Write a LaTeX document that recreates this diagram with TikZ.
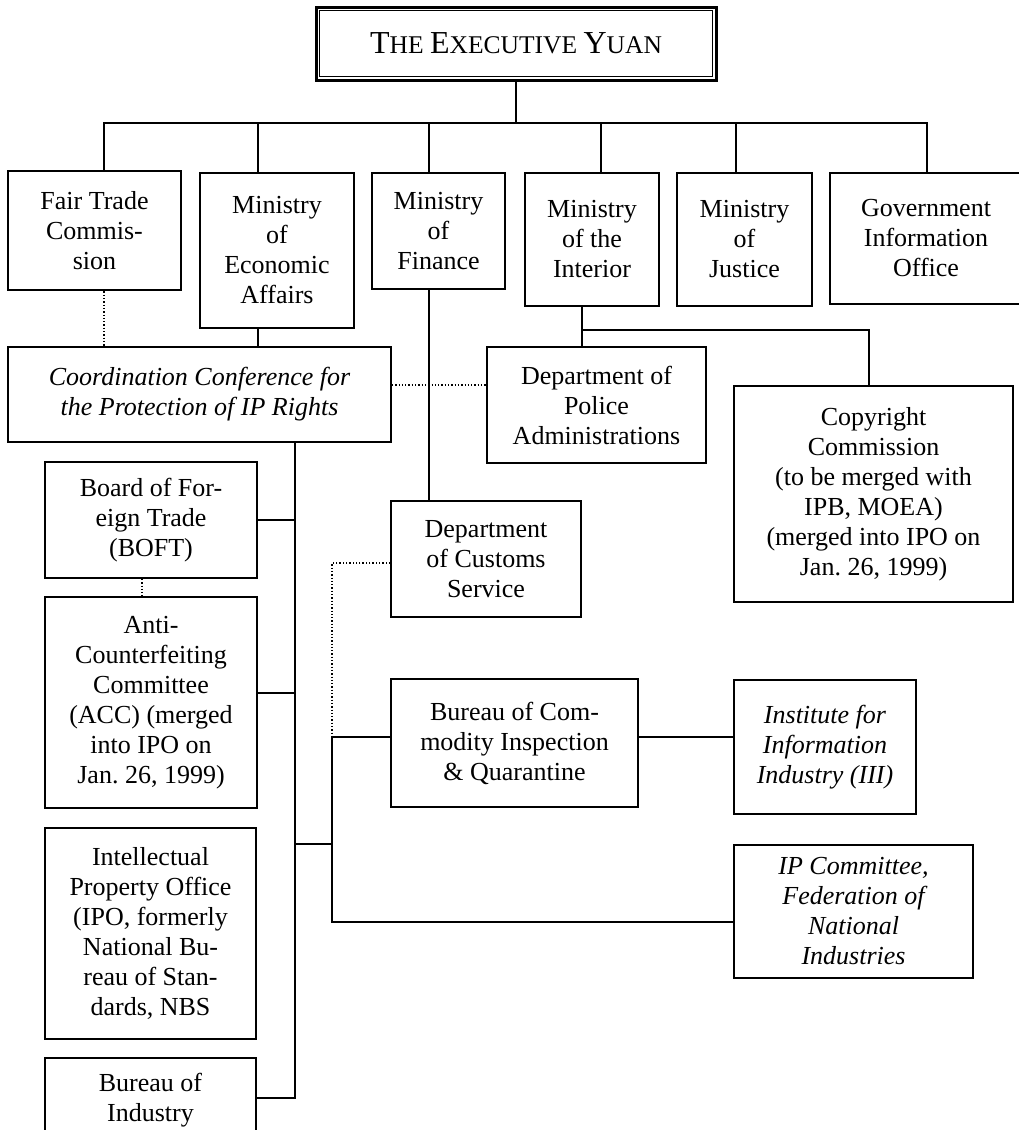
\documentclass[tikz,border=0pt]{standalone}
\usepackage{fontspec}
\setmainfont{Liberation Serif}
\usetikzlibrary{positioning,calc}
\newcommand{\orgfont}{\fontsize{26}{30}\selectfont}
\newcommand{\bigsc}[2]{{\fontsize{32}{36}\selectfont #1}{\fontsize{25.5}{36}\selectfont #2}}

\begin{document}
\begin{tikzpicture}[
    x=1pt, y=-1pt,
    box/.style={rectangle, draw, line width=1.8pt, align=center, font=\orgfont, inner sep=2pt},
    minbox/.style={box, line width=2.8pt},
    itbox/.style={box, font=\orgfont\itshape},
    headbox/.style={rectangle, draw, line width=3pt, align=center, font=\orgfont, minimum width=400pt, minimum height=73pt},
    link/.style={line width=1.8pt},
    dotlink/.style={line width=1.3pt, dotted},
]
    \useasboundingbox (0,0) rectangle (1018,1130);

    % Head
    \node[headbox] (yuan) at (516,43.5) {\bigsc{T}{HE} \bigsc{E}{XECUTIVE} \bigsc{Y}{UAN}};
    \draw[line width=1.2pt] ([shift={(5pt,-5pt)}]yuan.north west) rectangle ([shift={(-5pt,5pt)}]yuan.south east);

    % Ministries
    \node[minbox, minimum width=173pt, minimum height=119pt] (ftc) at (94.5,230.5) {Fair Trade\\Commis-\\sion};
    \node[minbox, minimum width=154pt, minimum height=155pt] (moea) at (277,250.5) {Ministry\\of\\Economic\\Affairs};
    \node[minbox, minimum width=133pt, minimum height=116pt] (mof) at (438.5,231) {Ministry\\of\\Finance};
    \node[minbox, minimum width=134pt, minimum height=133pt] (moi) at (592,239.5) {Ministry\\of the\\Interior};
    \node[minbox, minimum width=135pt, minimum height=133pt] (moj) at (744.5,239.5) {Ministry\\of\\Justice};
    \node[minbox, minimum width=192pt, minimum height=131pt] (gio) at (926,238.5) {Government\\Information\\Office};

    % Second level
    \node[itbox, minimum width=383pt, minimum height=95pt] (ccpr) at (199.5,394.5) {Coordination Conference for\\the Protection of IP Rights};
    \node[box, minimum width=219pt, minimum height=116pt] (police) at (596.5,405) {Department of\\Police\\Administrations};
    \node[box, minimum width=279pt, minimum height=216pt] (copyright) at (873.5,494) {Copyright\\Commission\\(to be merged with\\IPB, MOEA)\\(merged into IPO on\\Jan.\ 26, 1999)};
    \node[box, minimum width=190pt, minimum height=116pt] (customs) at (486,559) {Department\\of Customs\\Service};

    % Under the conference
    \node[box, minimum width=212pt, minimum height=116pt] (boft) at (151,520) {Board of For-\\eign Trade\\(BOFT)};
    \node[box, minimum width=212pt, minimum height=211pt] (acc) at (151,702.5) {Anti-\\Counterfeiting\\Committee\\(ACC) (merged\\into IPO on\\Jan.\ 26, 1999)};
    \node[box, minimum width=211pt, minimum height=211pt] (ipo) at (150.5,933.5) {Intellectual\\Property Office\\(IPO, formerly\\National Bu-\\reau of Stan-\\dards, NBS};
    \node[box, minimum width=211pt, minimum height=84pt] (boi) at (150.5,1100) {Bureau of\\Industry};

    % Bureaus and others
    \node[box, minimum width=247pt, minimum height=128pt] (bciq) at (514.5,743) {Bureau of Com-\\modity Inspection\\\& Quarantine};
    \node[itbox, minimum width=182pt, minimum height=134pt] (iii) at (825,747) {Institute for\\Information\\Industry (III)};
    \node[itbox, minimum width=239pt, minimum height=133pt] (ipc) at (853.5,911.5) {IP Committee,\\Federation of\\National\\Industries};

    % Links from the head
    \coordinate (bus) at (516,123);
    \draw[link] (yuan) -- (bus);
    \draw[link] (bus) -| ([xshift=9.5pt]ftc.north);
    \draw[link] (bus) -| ([xshift=-19pt]moea.north);
    \draw[link] (bus) -| ([xshift=-9.5pt]mof.north);
    \draw[link] (bus) -| ([xshift=9pt]moi.north);
    \draw[link] (bus) -| ([xshift=-8.5pt]moj.north);
    \draw[link] (bus) -| ([xshift=1pt]gio.north);

    % Links below the ministries
    \draw[dotlink] ([xshift=9.5pt]ftc.south) -- ([xshift=9.5pt]ftc.south |- ccpr.north);
    \draw[link] ([xshift=-19pt]moea.south) -- ([xshift=-19pt]moea.south |- ccpr.north);
    \draw[link] ([xshift=-9.5pt]mof.south) -- ([xshift=-9.5pt]mof.south |- customs.north);
    \coordinate (moisplit) at (582,330);
    \draw[link] ([xshift=-10pt]moi.south) -- (moisplit) -- (moisplit |- police.north);
    \draw[link] (moisplit) -| ([xshift=-4.5pt]copyright.north);
    \draw[dotlink] ([yshift=9.5pt]ccpr.east) -- ([yshift=9.5pt]ccpr.east -| police.west);

    % Trunk under the conference
    \coordinate (trunk) at (295,1098);
    \draw[link] (ccpr.south -| trunk) -- (trunk) -- (trunk -| boi.east);
    \draw[link] (boft.east) -- (boft.east -| trunk);
    \draw[link] ([yshift=9.5pt]acc.east) -- ([yshift=9.5pt]acc.east -| trunk);
    \draw[dotlink] ([xshift=-9pt]boft.south) -- ([xshift=-9pt]boft.south |- acc.north);

    % Branch to the bureaus
    \coordinate (fork) at (332,844);
    \draw[link] (fork -| trunk) -- (fork);
    \draw[link] ([yshift=6pt]bciq.west) -| (fork) |- ([yshift=-10.5pt]ipc.west);
    \draw[dotlink] ([yshift=-4pt]customs.west) -| ([yshift=6pt]bciq.west -| fork);
    \draw[link] ([yshift=6pt]bciq.east) -- ([yshift=6pt]bciq.east -| iii.west);
\end{tikzpicture}
\end{document}
